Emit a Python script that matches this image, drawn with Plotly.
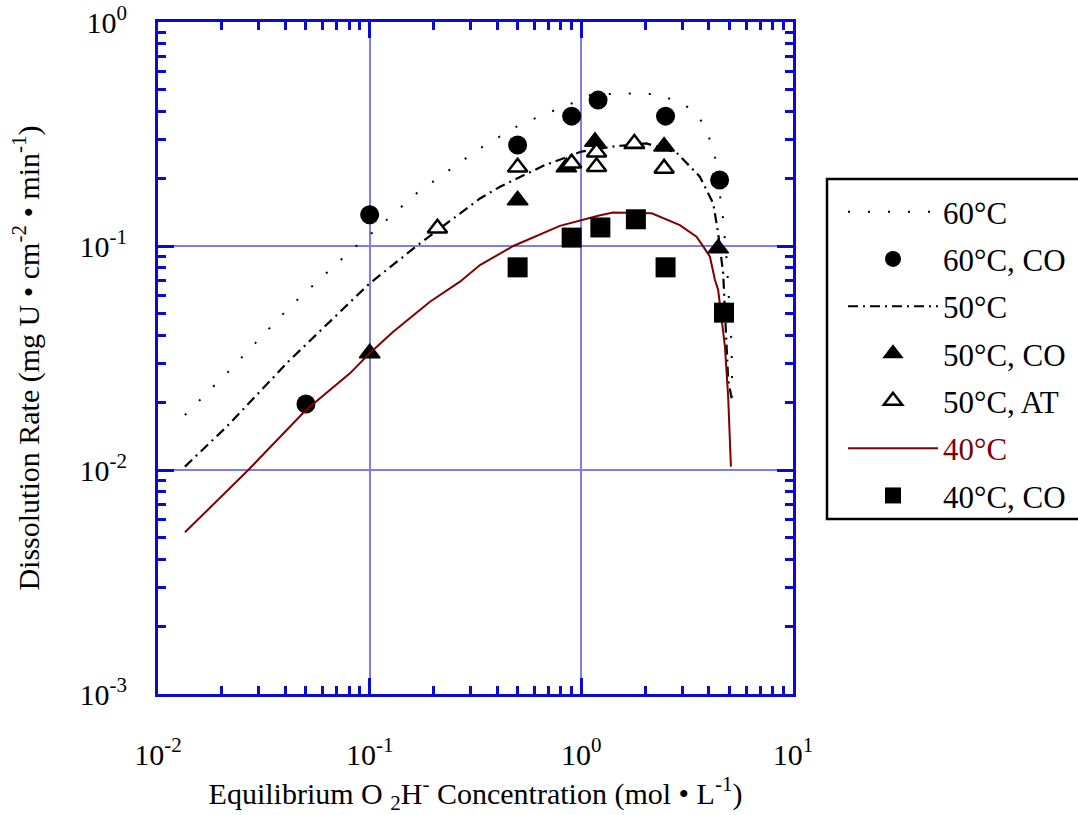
import plotly.graph_objects as go

# ---- data ----
x60_line = [0.0134, 0.0215, 0.042, 0.0837, 0.1, 0.1667, 0.332, 0.51, 0.686, 0.866, 1.10, 1.52, 2.19, 2.92, 3.5, 3.91, 4.28, 4.52, 4.68, 4.86, 4.94, 5.13, 5.16]
y60_line = [0.0176, 0.0275, 0.0536, 0.0976, 0.112, 0.172, 0.273, 0.347, 0.391, 0.426, 0.472, 0.48, 0.477, 0.441, 0.391, 0.33, 0.25, 0.166, 0.131, 0.0866, 0.068, 0.0355, 0.0212]

x50_line = [0.0134, 0.0211, 0.0413, 0.1, 0.1667, 0.267, 0.332, 0.413, 0.661, 1.0, 1.41, 2.03, 2.82, 3.63, 4.2, 4.43, 4.68, 4.8, 4.94, 5.13]
y50_line = [0.01035, 0.0156, 0.0305, 0.0681, 0.1, 0.14, 0.163, 0.184, 0.228, 0.264, 0.278, 0.287, 0.261, 0.204, 0.155, 0.114, 0.0755, 0.045, 0.0252, 0.0209]

x40_line = [0.01341, 0.02, 0.0267, 0.05, 0.0807, 0.1, 0.1292, 0.1927, 0.267, 0.332, 0.477, 0.792, 1.2, 1.41, 2.15, 2.92, 3.5, 3.77, 4.05, 4.28, 4.43, 4.77, 4.94, 5.09]
y40_line = [0.00527, 0.0076, 0.01, 0.01853, 0.027, 0.0332, 0.0414, 0.0564, 0.0693, 0.0822, 0.1, 0.123, 0.1366, 0.141, 0.14, 0.124, 0.110, 0.0993, 0.0896, 0.0705, 0.0636, 0.0355, 0.0212, 0.01035]

x60_co = [0.05, 0.1, 0.5, 0.9, 1.2, 2.5, 4.5]
y60_co = [0.0197, 0.138, 0.2825, 0.38, 0.448, 0.38, 0.197]

x50_co = [0.1, 0.5, 0.85, 1.16, 1.78, 2.46, 4.43]
y50_co = [0.0332, 0.16, 0.2245, 0.292, 0.285, 0.278, 0.0976]

x50_at = [0.209, 0.5, 0.9, 1.18, 1.18, 1.78, 2.46]
y50_at = [0.12, 0.2245, 0.234, 0.262, 0.226, 0.287, 0.222]

x40_co = [0.5, 0.9, 1.23, 1.81, 2.5, 4.72]
y40_co = [0.0803, 0.109, 0.121, 0.1316, 0.0803, 0.0504]

x_tickvals = [0.01, 0.1, 1, 10]
x_ticktext = ["10<sup>-2</sup>", "10<sup>-1</sup>", "10<sup>0</sup>", "10<sup>1</sup>"]
y_tickvals = [0.001, 0.01, 0.1, 1]
y_ticktext = ["10<sup>-3</sup>", "10<sup>-2</sup>", "10<sup>-1</sup>", "10<sup>0</sup>"]

names = ["60°C", "60°C, CO", "50°C", "50°C, CO", "50°C, AT",
         "<span style='color:#800000'>40°C</span>", "40°C, CO"]

FONT = "Liberation Serif, Times New Roman, serif"
AXIS = "#0a0ad2"
GRID = "#7d7df0"
DARKRED = "#800000"

fig = go.Figure()
fig.add_trace(go.Scatter(x=x60_line, y=y60_line, mode="lines", name=names[0], legendgroup="a",
                         line=dict(color="black", width=2, dash="2px,18px")))
fig.add_trace(go.Scatter(x=x60_co, y=y60_co, mode="markers", name=names[1], legendgroup="b",
                         marker=dict(symbol="circle", size=19, color="black")))
fig.add_trace(go.Scatter(x=x50_line, y=y50_line, mode="lines", name=names[2], legendgroup="c",
                         line=dict(color="black", width=2.2, dash="10px,5px,2px,5px")))
fig.add_trace(go.Scatter(x=x50_co, y=y50_co, mode="markers", name=names[3], legendgroup="d",
                         marker=dict(symbol="triangle-up", size=18, color="black",
                                     line=dict(color="black", width=1.5))))
fig.add_trace(go.Scatter(x=x50_at, y=y50_at, mode="markers", name=names[4], legendgroup="e",
                         marker=dict(symbol="triangle-up", size=17, color="white",
                                     line=dict(color="black", width=2.5))))
fig.add_trace(go.Scatter(x=x40_line, y=y40_line, mode="lines", name=names[5], legendgroup="f",
                         line=dict(color=DARKRED, width=2)))
fig.add_trace(go.Scatter(x=x40_co, y=y40_co, mode="markers", name=names[6], legendgroup="g",
                         marker=dict(symbol="square", size=20, color="black")))

minor_x = [m * 10 ** k for k in range(-2, 1) for m in range(2, 10)]
minor_y = [m * 10 ** k for k in range(-3, 0) for m in range(2, 10)]

common = dict(showline=True, linecolor=AXIS, linewidth=3, mirror="allticks",
              ticks="inside", ticklen=16, tickwidth=3, tickcolor=AXIS,
              showgrid=True, gridcolor=GRID, gridwidth=2.2, zeroline=False,
              tickfont=dict(family=FONT, size=30, color="black"))

fig.update_xaxes(type="log", range=[-2, 1], tickmode="array", tickvals=x_tickvals, ticktext=x_ticktext,
                 minor=dict(tickmode="array", tickvals=minor_x, ticks="inside", ticklen=8, tickwidth=3,
                            tickcolor=AXIS, showgrid=False),
                 ticklabelstandoff=32,
                 title=dict(text="Equilibrium O <sub>2</sub>H<sup>-</sup> Concentration (mol • L<sup>-1</sup>)",
                            font=dict(family=FONT, size=30, color="black"), standoff=22),
                 **common)
fig.update_yaxes(type="log", range=[-3, 0], tickmode="array", tickvals=y_tickvals, ticktext=y_ticktext,
                 minor=dict(tickmode="array", tickvals=minor_y, ticks="inside", ticklen=8, tickwidth=3,
                            tickcolor=AXIS, showgrid=False),
                 ticklabelstandoff=22,
                 title=dict(text="Dissolution Rate (mg U • cm<sup>-2</sup> • min<sup>-1</sup>)",
                            font=dict(family=FONT, size=30, color="black"), standoff=32),
                 **common)

L, R, T, B = 158, 285, 22, 121
W, H = 1078, 815
pw, ph = W - L - R, H - T - B

def px_x(px):
    return (px - L) / pw

def px_y(py):
    return (H - B - py) / ph

fig.add_shape(type="rect", xref="paper", yref="paper",
              x0=px_x(827), x1=px_x(1095), y0=px_y(519), y1=px_y(179),
              line=dict(color="black", width=2.5), fillcolor="rgba(0,0,0,0)", layer="above")

fig.update_layout(
    width=W, height=H,
    margin=dict(l=L, r=R, t=T, b=B, autoexpand=False),
    paper_bgcolor="white", plot_bgcolor="white",
    font=dict(family=FONT, size=30, color="black"),
    showlegend=True,
    legend=dict(x=px_x(843), y=px_y(185), xanchor="left", yanchor="top",
                bgcolor="rgba(0,0,0,0)", borderwidth=0, itemwidth=90,
                tracegroupgap=4, font=dict(family=FONT, size=31, color="black")),
)

fig.write_html("out.html")
